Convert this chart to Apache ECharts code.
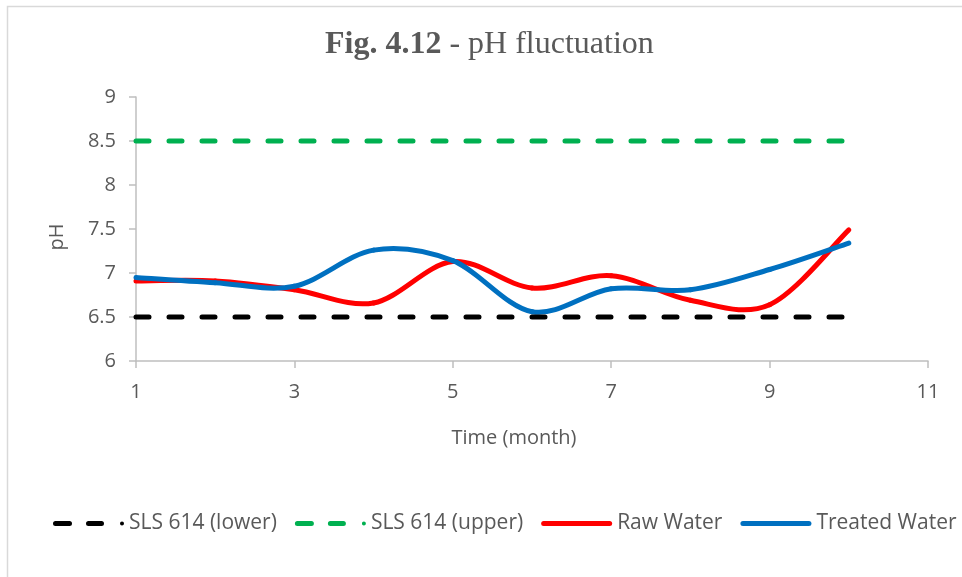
<!DOCTYPE html>
<html>
<head>
<meta charset="utf-8">
<script src="https://cdn.jsdelivr.net/npm/echarts@6/dist/echarts.min.js"></script>
<style>html,body{margin:0;padding:0;background:#fff}#c{width:962px;height:577px}</style>
</head>
<body>
<div id="c"></div>
<script>
var months = [1, 2, 3, 4, 5, 6, 7, 8, 9, 10];
var slsLower = [6.5, 6.5, 6.5, 6.5, 6.5, 6.5, 6.5, 6.5, 6.5, 6.5];
var slsUpper = [8.5, 8.5, 8.5, 8.5, 8.5, 8.5, 8.5, 8.5, 8.5, 8.5];
var rawWater = [6.91, 6.91, 6.81, 6.66, 7.13, 6.83, 6.97, 6.69, 6.64, 7.49];
var treatedWater = [6.95, 6.89, 6.85, 7.26, 7.14, 6.56, 6.82, 6.81, 7.04, 7.34];
var seriesNames = ['SLS 614 (lower)', 'SLS 614 (upper)', 'Raw Water', 'Treated Water'];
var colors = ['#000000', '#00b050', '#ff0000', '#0070c0'];

function pairs(vals) { return months.map(function (m, i) { return [m, vals[i]]; }); }

// Excel-like smoothed line (Catmull-Rom / Bezier) drawn through the axes' coord()
function spline(name, vals, color) {
  return {
    name: name, type: 'custom', data: pairs(vals), encode: { x: 0, y: 1 },
    itemStyle: { color: color },
    renderItem: function (params, api) {
      var i = params.dataIndex, n = vals.length;
      if (i >= n - 1) return null;
      function P(k) { k = Math.max(0, Math.min(n - 1, k)); return api.coord([months[k], vals[k]]); }
      var p0 = P(i - 1), p1 = P(i), p2 = P(i + 1), p3 = P(i + 2), t = 1 / 6;
      return {
        type: 'bezierCurve',
        shape: {
          x1: p1[0], y1: p1[1], x2: p2[0], y2: p2[1],
          cpx1: p1[0] + (p2[0] - p0[0]) * t, cpy1: p1[1] + (p2[1] - p0[1]) * t,
          cpx2: p2[0] - (p3[0] - p1[0]) * t, cpy2: p2[1] - (p3[1] - p1[1]) * t
        },
        style: { stroke: color, lineWidth: 5, fill: null, lineCap: 'round' }
      };
    }
  };
}

var dashIcon = 'path://M2.5,0 H16.5 A2.5,2.5 0 0 1 16.5,5 H2.5 A2.5,2.5 0 0 1 2.5,0 Z M35.5,0 H48.5 A2.5,2.5 0 0 1 48.5,5 H35.5 A2.5,2.5 0 0 1 35.5,0 Z M67,2.5 A2,2 0 1 1 71,2.5 A2,2 0 1 1 67,2.5 Z';
var solidIcon = 'path://M2.5,0 H68.5 A2.5,2.5 0 0 1 68.5,5 H2.5 A2.5,2.5 0 0 1 2.5,0 Z';

var txt = '#595959';
var font = 'Open Sans';
var chart = echarts.init(document.getElementById('c'));
chart.setOption({
  animation: false,
  graphic: [{
    type: 'rect', silent: true,
    shape: { x: 7.5, y: 6.5, width: 1000, height: 700 },
    style: { fill: 'none', stroke: '#d9d9d9', lineWidth: 1.5 }
  }],
  title: {
    text: '{b|Fig. 4.12}{n| - pH fluctuation}',
    left: 325, top: 26, padding: 0,
    textStyle: {
      rich: {
        b: { fontFamily: 'Liberation Serif', fontSize: 32, fontWeight: 'bold', color: txt, lineHeight: 37 },
        n: { fontFamily: 'Liberation Serif', fontSize: 32, fontWeight: 'normal', color: txt, lineHeight: 37 }
      }
    }
  },
  grid: { left: 136, right: 34, top: 97, bottom: 216, containLabel: false },
  legend: {
    data: seriesNames.map(function (s, i) {
      return { name: s, icon: i < 2 ? dashIcon : solidIcon, itemStyle: { color: colors[i], opacity: 1 } };
    }),
    left: 53, top: 513, padding: 0,
    itemWidth: 71, itemHeight: 20, itemGap: 18,
    textStyle: { fontFamily: font, fontSize: 21, color: txt }
  },
  xAxis: {
    type: 'value', min: 1, max: 11, interval: 2,
    name: 'Time (month)', nameLocation: 'middle', nameGap: 67,
    nameTextStyle: { fontFamily: font, fontSize: 20, color: txt, padding: [0, 36, 0, 0] },
    axisLine: { show: true, lineStyle: { color: '#bfbfbf', width: 1.5 } },
    axisTick: { show: true, length: 7, lineStyle: { color: '#bfbfbf', width: 1.5 } },
    axisLabel: { fontFamily: font, fontSize: 20, color: txt, margin: 21 },
    splitLine: { show: false }
  },
  yAxis: {
    type: 'value', min: 6, max: 9, interval: 0.5,
    name: 'pH', nameLocation: 'middle', nameGap: 69, nameRotate: 90,
    nameTextStyle: { fontFamily: font, fontSize: 20, color: txt, padding: [0, 16, 0, 0] },
    axisLine: { show: true, lineStyle: { color: '#bfbfbf', width: 1.5 } },
    axisTick: { show: true, length: 7, lineStyle: { color: '#bfbfbf', width: 1.5 } },
    axisLabel: { fontFamily: font, fontSize: 20, color: txt, margin: 20 },
    splitLine: { show: false }
  },
  series: [
    { name: seriesNames[0], type: 'line', symbol: 'none', data: pairs(slsLower),
      lineStyle: { color: colors[0], width: 5, type: [13, 20], cap: 'round' }, itemStyle: { color: colors[0] } },
    { name: seriesNames[1], type: 'line', symbol: 'none', data: pairs(slsUpper),
      lineStyle: { color: colors[1], width: 5, type: [13, 20], cap: 'round' }, itemStyle: { color: colors[1] } },
    spline(seriesNames[2], rawWater, colors[2]),
    spline(seriesNames[3], treatedWater, colors[3])
  ]
});
</script>
</body>
</html>
